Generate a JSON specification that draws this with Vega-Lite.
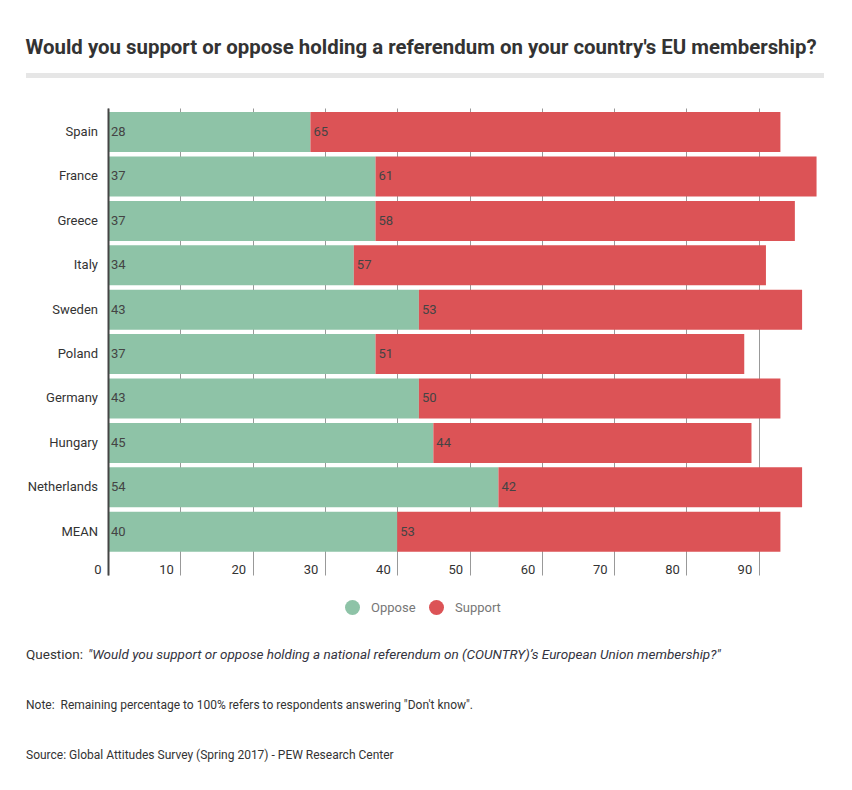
{
  "$schema": "https://vega.github.io/schema/vega-lite/v6.json",
  "background": "white",
  "padding": {"left": 25, "top": 38, "right": 10, "bottom": 10},
  "title": {"text": "Would you support or oppose holding a referendum on your country's EU membership?", "anchor": "start", "fontSize": 20.4, "font": "Roboto", "fontWeight": "bold", "color": "#333333", "offset": 14},
  "config": {"font": "Roboto", "view": {"stroke": null}},
  "datasets": {
    "bars": [
      {"country": "Spain", "answer": "Oppose", "value": 28},
      {"country": "Spain", "answer": "Support", "value": 65},
      {"country": "France", "answer": "Oppose", "value": 37},
      {"country": "France", "answer": "Support", "value": 61},
      {"country": "Greece", "answer": "Oppose", "value": 37},
      {"country": "Greece", "answer": "Support", "value": 58},
      {"country": "Italy", "answer": "Oppose", "value": 34},
      {"country": "Italy", "answer": "Support", "value": 57},
      {"country": "Sweden", "answer": "Oppose", "value": 43},
      {"country": "Sweden", "answer": "Support", "value": 53},
      {"country": "Poland", "answer": "Oppose", "value": 37},
      {"country": "Poland", "answer": "Support", "value": 51},
      {"country": "Germany", "answer": "Oppose", "value": 43},
      {"country": "Germany", "answer": "Support", "value": 50},
      {"country": "Hungary", "answer": "Oppose", "value": 45},
      {"country": "Hungary", "answer": "Support", "value": 44},
      {"country": "Netherlands", "answer": "Oppose", "value": 54},
      {"country": "Netherlands", "answer": "Support", "value": 42},
      {"country": "MEAN", "answer": "Oppose", "value": 40},
      {"country": "MEAN", "answer": "Support", "value": 53}
    ],
    "notes": [
      {"line": 1, "part": "question", "label": "Question:"},
      {"line": 1, "part": "quote", "label": "\"Would you support or oppose holding a national referendum on (COUNTRY)’s European Union membership?\""},
      {"line": 2, "part": "note", "label": "Note: \u00a0Remaining percentage to 100% refers to respondents answering \"Don't know\"."},
      {"line": 3, "part": "note", "label": "Source: Global Attitudes Survey (Spring 2017) - PEW Research Center"}
    ]
  },
  "spacing": 30,
  "vconcat": [
    {
      "width": 798,
      "height": 5,
      "view": {"fill": "#e6e6e6", "stroke": null},
      "data": {"name": "notes"},
      "mark": {"type": "rule", "opacity": 0},
      "encoding": {}
    },
    {
      "spacing": 10,
      "bounds": "flush",
      "hconcat": [
        {
          "width": 72,
          "height": 467,
          "data": {"name": "bars"},
          "transform": [{"filter": "datum.answer === 'Oppose'"}],
          "mark": {"type": "text", "align": "right", "baseline": "middle", "fontSize": 13, "color": "#333333", "font": "Roboto"},
          "encoding": {
            "y": {
              "field": "country", "type": "nominal", "sort": null, "title": null, "axis": null,
              "scale": {"type": "band", "paddingInner": 0.1, "paddingOuter": 0.309, "align": 0.15}
            },
            "x": {"value": "width"},
            "text": {"field": "country", "type": "nominal"}
          }
        },
        {
          "width": 710,
          "height": 467,
          "data": {"name": "bars"},
          "transform": [
            {"stack": "value", "groupby": ["country"], "sort": [{"field": "answer", "order": "ascending"}], "as": ["x0", "x1"]}
          ],
          "encoding": {
            "y": {
              "field": "country", "type": "nominal", "sort": null, "title": null,
              "scale": {"type": "band", "paddingInner": 0.1, "paddingOuter": 0.309, "align": 0.15},
              "axis": {"ticks": false, "labels": false, "minExtent": 0, "maxExtent": 0, "domainColor": "#444444", "domainWidth": 2, "zindex": 1}
            }
          },
          "layer": [
            {
              "mark": {"type": "bar"},
              "encoding": {
                "x": {
                  "field": "x0", "type": "quantitative", "title": null,
                  "scale": {"domain": [0, 98.2], "nice": false, "zero": true},
                  "axis": {"values": [0, 10, 20, 30, 40, 50, 60, 70, 80, 90], "domain": false, "ticks": false, "grid": true, "gridColor": "#999999", "gridWidth": 1, "labelAlign": "right", "labelOffset": -7, "labelBaseline": "alphabetic", "labelPadding": -2, "labelFontSize": 13, "labelColor": "#333333", "labelFont": "Roboto", "zindex": 0}
                },
                "x2": {"field": "x1"},
                "color": {
                  "field": "answer", "type": "nominal", "title": null,
                  "scale": {"domain": ["Oppose", "Support"], "range": ["#8ec3a7", "#dc5356"]},
                  "legend": {"orient": "none", "legendX": 318, "legendY": 526, "direction": "horizontal", "symbolType": "circle", "symbolSize": 225, "symbolOpacity": 1, "labelFontSize": 13, "labelColor": "#777777", "labelFont": "Roboto", "labelOffset": 10, "columnPadding": 12}
                }
              }
            },
            {
              "mark": {"type": "text", "align": "left", "baseline": "middle", "dx": 3, "fontSize": 13, "color": "#444444", "font": "Roboto"},
              "encoding": {
                "x": {"field": "x0", "type": "quantitative"},
                "text": {"field": "value", "type": "quantitative"}
              }
            }
          ]
        }
      ]
    },
    {
      "width": 798,
      "height": 180,
      "data": {"name": "notes"},
      "encoding": {
        "y": {"field": "line", "type": "ordinal", "axis": null, "scale": {"type": "point", "padding": 0.8, "align": 0.6125}},
        "x": {"value": 0},
        "text": {"field": "label", "type": "nominal"}
      },
      "layer": [
        {
          "transform": [{"filter": "datum.part === 'question'"}],
          "mark": {"type": "text", "align": "left", "baseline": "middle", "fontSize": 13.5, "color": "#333333", "font": "Roboto"}
        },
        {
          "transform": [{"filter": "datum.part === 'quote'"}],
          "mark": {"type": "text", "align": "left", "baseline": "middle", "dx": 62, "fontSize": 13.5, "fontStyle": "italic", "color": "#333340", "font": "Roboto"}
        },
        {
          "transform": [{"filter": "datum.part === 'note'"}],
          "mark": {"type": "text", "align": "left", "baseline": "middle", "fontSize": 12, "color": "#333333", "font": "Roboto"}
        }
      ]
    }
  ]
}
